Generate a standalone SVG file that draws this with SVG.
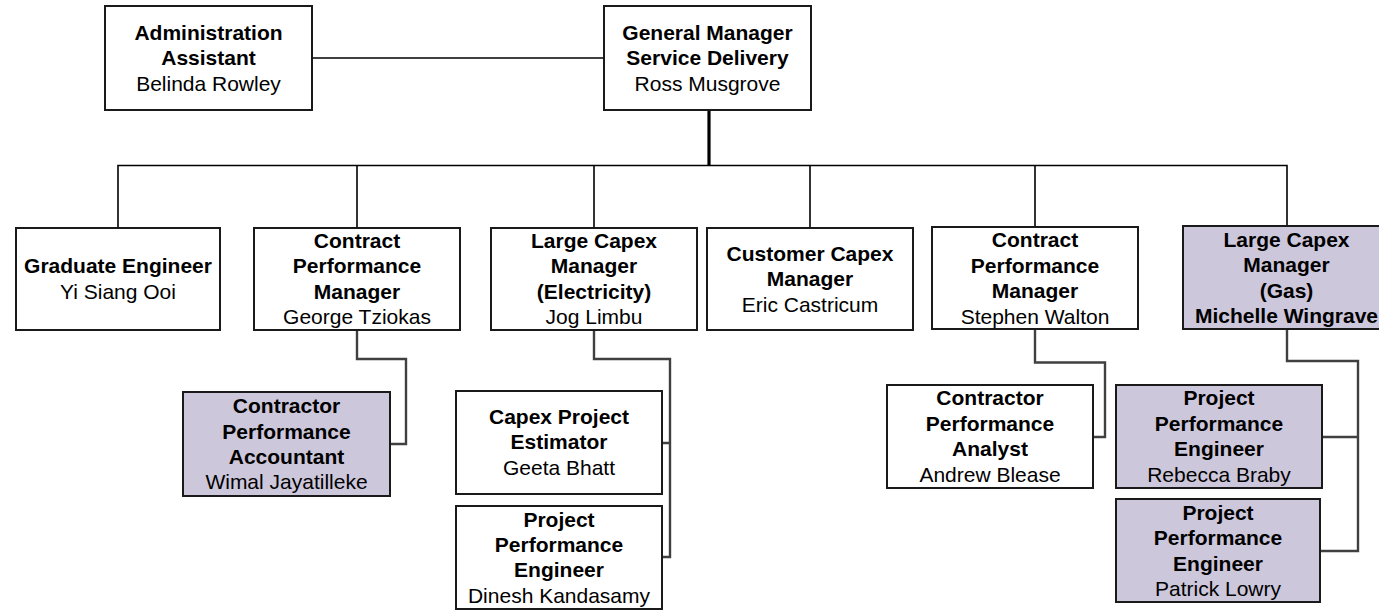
<svg xmlns="http://www.w3.org/2000/svg" width="1379" height="610" viewBox="0 0 1379 610">
  <style>
    .box { fill: #ffffff; stroke: #1a1a1a; stroke-width: 2; }
    .hl { fill: #cdc7db; }
    .t { font-family: "Liberation Sans", Arial, sans-serif; font-size: 21px; fill: #000; text-anchor: middle; }
    .b { font-weight: bold; }
    .main { fill: none; stroke: #000; stroke-width: 1.6; }
    .trunk { fill: none; stroke: #000; stroke-width: 3.2; }
    .sub { fill: none; stroke: #404040; stroke-width: 2.4; }
  </style>

  <!-- reporting lines -->
  <g id="connectors">
    <line class="main" x1="312" y1="58" x2="604" y2="58"/>
    <line class="trunk" x1="709" y1="110" x2="709" y2="165.5"/>
    <path class="main" d="M118 228 V165.5 H1287 V227"/>
    <line class="main" x1="357" y1="165.5" x2="357" y2="228"/>
    <line class="main" x1="594" y1="165.5" x2="594" y2="228"/>
    <line class="main" x1="810" y1="165.5" x2="810" y2="228"/>
    <line class="main" x1="1035" y1="165.5" x2="1035" y2="227"/>
    <path class="sub" d="M357 330 V359 H406 V444 H390"/>
    <path class="sub" d="M594 330 V359 H670 V557 H662 M670 443 H662"/>
    <path class="sub" d="M1035 329 V362.5 H1105 V437 H1093"/>
    <path class="sub" d="M1287 329 V361 H1358 V551 H1320 M1358 437 H1322"/>
  </g>

  <g id="admin-assistant">
    <rect class="box" x="105" y="6" width="207" height="104"/>
    <text class="t"><tspan class="b" x="208.5" y="40">Administration</tspan><tspan class="b" x="208.5" y="65.3">Assistant</tspan><tspan x="208.5" y="90.6">Belinda Rowley</tspan></text>
  </g>

  <g id="general-manager">
    <rect class="box" x="604" y="6" width="207" height="104"/>
    <text class="t"><tspan class="b" x="707.5" y="40">General Manager</tspan><tspan class="b" x="707.5" y="65.3">Service Delivery</tspan><tspan x="707.5" y="90.6">Ross Musgrove</tspan></text>
  </g>

  <g id="graduate-engineer">
    <rect class="box" x="16" y="228" width="204" height="102"/>
    <text class="t"><tspan class="b" x="118" y="273">Graduate Engineer</tspan><tspan x="118" y="298.5">Yi Siang Ooi</tspan></text>
  </g>

  <g id="contract-manager-george">
    <rect class="box" x="254" y="228" width="206" height="102"/>
    <text class="t"><tspan class="b" x="357" y="248">Contract</tspan><tspan class="b" x="357" y="273.3">Performance</tspan><tspan class="b" x="357" y="298.7">Manager</tspan><tspan x="357" y="324">George Tziokas</tspan></text>
  </g>

  <g id="large-capex-electricity">
    <rect class="box" x="491" y="228" width="206" height="102"/>
    <text class="t"><tspan class="b" x="594" y="247.5">Large Capex</tspan><tspan class="b" x="594" y="273">Manager</tspan><tspan class="b" x="594" y="298.5">(Electricity)</tspan><tspan x="594" y="324">Jog Limbu</tspan></text>
  </g>

  <g id="customer-capex">
    <rect class="box" x="707" y="228" width="206" height="102"/>
    <text class="t"><tspan class="b" x="810" y="261">Customer Capex</tspan><tspan class="b" x="810" y="286.3">Manager</tspan><tspan x="810" y="311.6">Eric Castricum</tspan></text>
  </g>

  <g id="contract-manager-stephen">
    <rect class="box" x="932" y="227" width="206" height="102"/>
    <text class="t"><tspan class="b" x="1035" y="247">Contract</tspan><tspan class="b" x="1035" y="272.5">Performance</tspan><tspan class="b" x="1035" y="298">Manager</tspan><tspan x="1035" y="323.5">Stephen Walton</tspan></text>
  </g>

  <g id="large-capex-gas">
    <rect class="box hl" x="1183" y="226" width="207" height="103"/>
    <text class="t b"><tspan x="1286.5" y="246.7">Large Capex</tspan><tspan x="1286.5" y="272.2">Manager</tspan><tspan x="1286.5" y="297.7">(Gas)</tspan><tspan x="1286.5" y="323.2">Michelle Wingrave</tspan></text>
  </g>

  <g id="contractor-accountant">
    <rect class="box hl" x="183" y="392" width="207" height="104"/>
    <text class="t"><tspan class="b" x="286.5" y="413">Contractor</tspan><tspan class="b" x="286.5" y="438.5">Performance</tspan><tspan class="b" x="286.5" y="464">Accountant</tspan><tspan x="286.5" y="489.3">Wimal Jayatilleke</tspan></text>
  </g>

  <g id="capex-estimator">
    <rect class="box" x="456" y="391" width="206" height="103"/>
    <text class="t"><tspan class="b" x="559" y="423.5">Capex Project</tspan><tspan class="b" x="559" y="449.3">Estimator</tspan><tspan x="559" y="475">Geeta Bhatt</tspan></text>
  </g>

  <g id="project-engineer-dinesh">
    <rect class="box" x="456" y="506" width="206" height="103"/>
    <text class="t"><tspan class="b" x="559" y="526.7">Project</tspan><tspan class="b" x="559" y="552">Performance</tspan><tspan class="b" x="559" y="577.3">Engineer</tspan><tspan x="559" y="602.7">Dinesh Kandasamy</tspan></text>
  </g>

  <g id="contractor-analyst">
    <rect class="box" x="887" y="385" width="206" height="103"/>
    <text class="t"><tspan class="b" x="990" y="405.3">Contractor</tspan><tspan class="b" x="990" y="430.7">Performance</tspan><tspan class="b" x="990" y="456">Analyst</tspan><tspan x="990" y="481.5">Andrew Blease</tspan></text>
  </g>

  <g id="project-engineer-rebecca">
    <rect class="box hl" x="1116" y="385" width="206" height="103"/>
    <text class="t"><tspan class="b" x="1219" y="405.3">Project</tspan><tspan class="b" x="1219" y="430.7">Performance</tspan><tspan class="b" x="1219" y="456">Engineer</tspan><tspan x="1219" y="481.5">Rebecca Braby</tspan></text>
  </g>

  <g id="project-engineer-patrick">
    <rect class="box hl" x="1116" y="499" width="204" height="103"/>
    <text class="t"><tspan class="b" x="1218" y="520">Project</tspan><tspan class="b" x="1218" y="545.3">Performance</tspan><tspan class="b" x="1218" y="570.7">Engineer</tspan><tspan x="1218" y="596">Patrick Lowry</tspan></text>
  </g>
</svg>
